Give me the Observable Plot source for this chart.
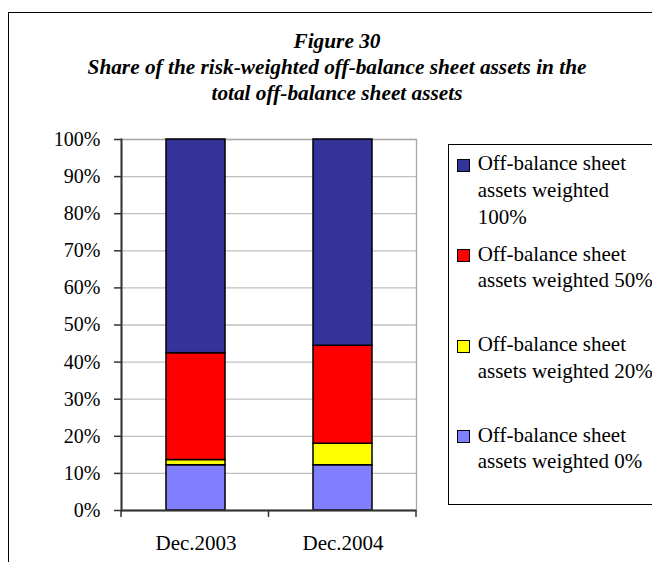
<!DOCTYPE html>
<html><head><meta charset="utf-8">
<script src="https://cdn.jsdelivr.net/npm/d3@7"></script>
<script src="https://cdn.jsdelivr.net/npm/@observablehq/plot@0.6"></script>
<style>
html,body{margin:0;padding:0;background:#fff;overflow:hidden;width:652px;height:562px;}
#root{position:relative;width:652px;height:562px;overflow:hidden;font-family:"Liberation Serif","Times New Roman",serif;color:#000;}
#frame{position:absolute;left:8px;top:12px;width:700px;height:600px;border:1px solid #000;box-sizing:border-box;}
#title{position:absolute;left:9px;width:656px;top:28px;text-align:center;font-weight:bold;font-style:italic;font-size:21.3px;line-height:26px;}
#chart{position:absolute;left:0;top:0;}
#legend{position:absolute;left:448px;top:144px;width:260px;height:361px;border:1px solid #000;box-sizing:border-box;background:#fff;}
.item{position:absolute;left:28.7px;font-size:21px;line-height:26.7px;width:180px;white-space:normal;}
.sw{position:absolute;left:-20.7px;top:8.7px;width:11px;height:11px;border:1px solid #000;}
</style>
</head><body>
<div id="root">
  <div id="frame"></div>
  <div id="title"></div>
  <div id="chart"></div>
  <div id="legend"></div>
</div>
<script>
const titleLines = ["Figure 30", "Share of the risk-weighted off-balance sheet assets in the", "total off-balance sheet assets"];
const categories = ["Dec.2003", "Dec.2004"];
const seriesNames = [
  "Off-balance sheet assets weighted 0%",
  "Off-balance sheet assets weighted 20%",
  "Off-balance sheet assets weighted 50%",
  "Off-balance sheet assets weighted 100%"
];
const weighted0 = [0.122, 0.122];
const weighted20 = [0.014, 0.058];
const weighted50 = [0.288, 0.264];
const weighted100 = [0.576, 0.556];
const seriesColors = ["#8080FF", "#FFFF00", "#FF0000", "#333399"];
const yTicks = [0, 0.1, 0.2, 0.3, 0.4, 0.5, 0.6, 0.7, 0.8, 0.9, 1.0];

const seriesValues = [weighted0, weighted20, weighted50, weighted100];
const table = [];
seriesNames.forEach((s, si) => categories.forEach((c, ci) => table.push({series: s, category: c, value: seriesValues[si][ci]})));

// title
const titleEl = document.getElementById("title");
titleLines.forEach(t => { const d = document.createElement("div"); d.textContent = t; titleEl.appendChild(d); });

function xBoundaryTicks(index, scales, values, dim) {
  const g = d3.create("svg:g");
  const left = dim.marginLeft, right = dim.width - dim.marginRight, bottom = dim.height - dim.marginBottom;
  const n = categories.length;
  for (let i = 0; i <= n; i++) {
    const x = left + (right - left) * i / n;
    g.append("line").attr("x1", x).attr("x2", x).attr("y1", bottom).attr("y2", bottom + 7)
      .attr("stroke", "#333").attr("stroke-width", 1.5);
  }
  return g.node();
}

const chart = Plot.plot({
  width: 652, height: 562,
  marginLeft: 121, marginRight: 236, marginTop: 139, marginBottom: 52,
  style: {fontFamily: "'Liberation Serif', serif", color: "#000", background: "transparent", overflow: "visible"},
  x: {domain: categories, paddingInner: 0.6, paddingOuter: 0.3, axis: null, label: null},
  y: {domain: [0, 1], axis: null, label: null},
  color: {domain: seriesNames, range: seriesColors},
  marks: [
    Plot.gridY(yTicks, {stroke: "#c0c0c0", strokeOpacity: 1, strokeWidth: 1.3}),
    Plot.frame({stroke: "#a8a8a8", strokeWidth: 1.3}),
    Plot.barY(table, {x: "category", y: "value", fill: "series", stroke: "#000", strokeWidth: 1.5}),
    Plot.ruleY([0], {stroke: "#333", strokeWidth: 2}),
    Plot.frame({anchor: "left", stroke: "#333", strokeWidth: 2}),
    Plot.axisY(yTicks, {tickFormat: d3.format(".0%"), tickSize: 7, tickPadding: 14, fontSize: 20, stroke: "#333", strokeWidth: 1.5, label: null}),
    Plot.axisX({tickSize: 0, tickPadding: 25, fontSize: 21, label: null}),
    xBoundaryTicks
  ]
});
document.getElementById("chart").appendChild(chart);

// legend (top to bottom: reverse stacking order)
const legend = document.getElementById("legend");
const legendOrder = seriesNames.map((s, i) => i).reverse();
legendOrder.forEach((si, k) => {
  const it = document.createElement("div");
  it.className = "item";
  it.style.top = (5.3 + k * 90.4) + "px";
  const sw = document.createElement("div");
  sw.className = "sw";
  sw.style.background = seriesColors[si];
  it.appendChild(sw);
  it.appendChild(document.createTextNode(seriesNames[si]));
  legend.appendChild(it);
});
</script>
</body></html>
